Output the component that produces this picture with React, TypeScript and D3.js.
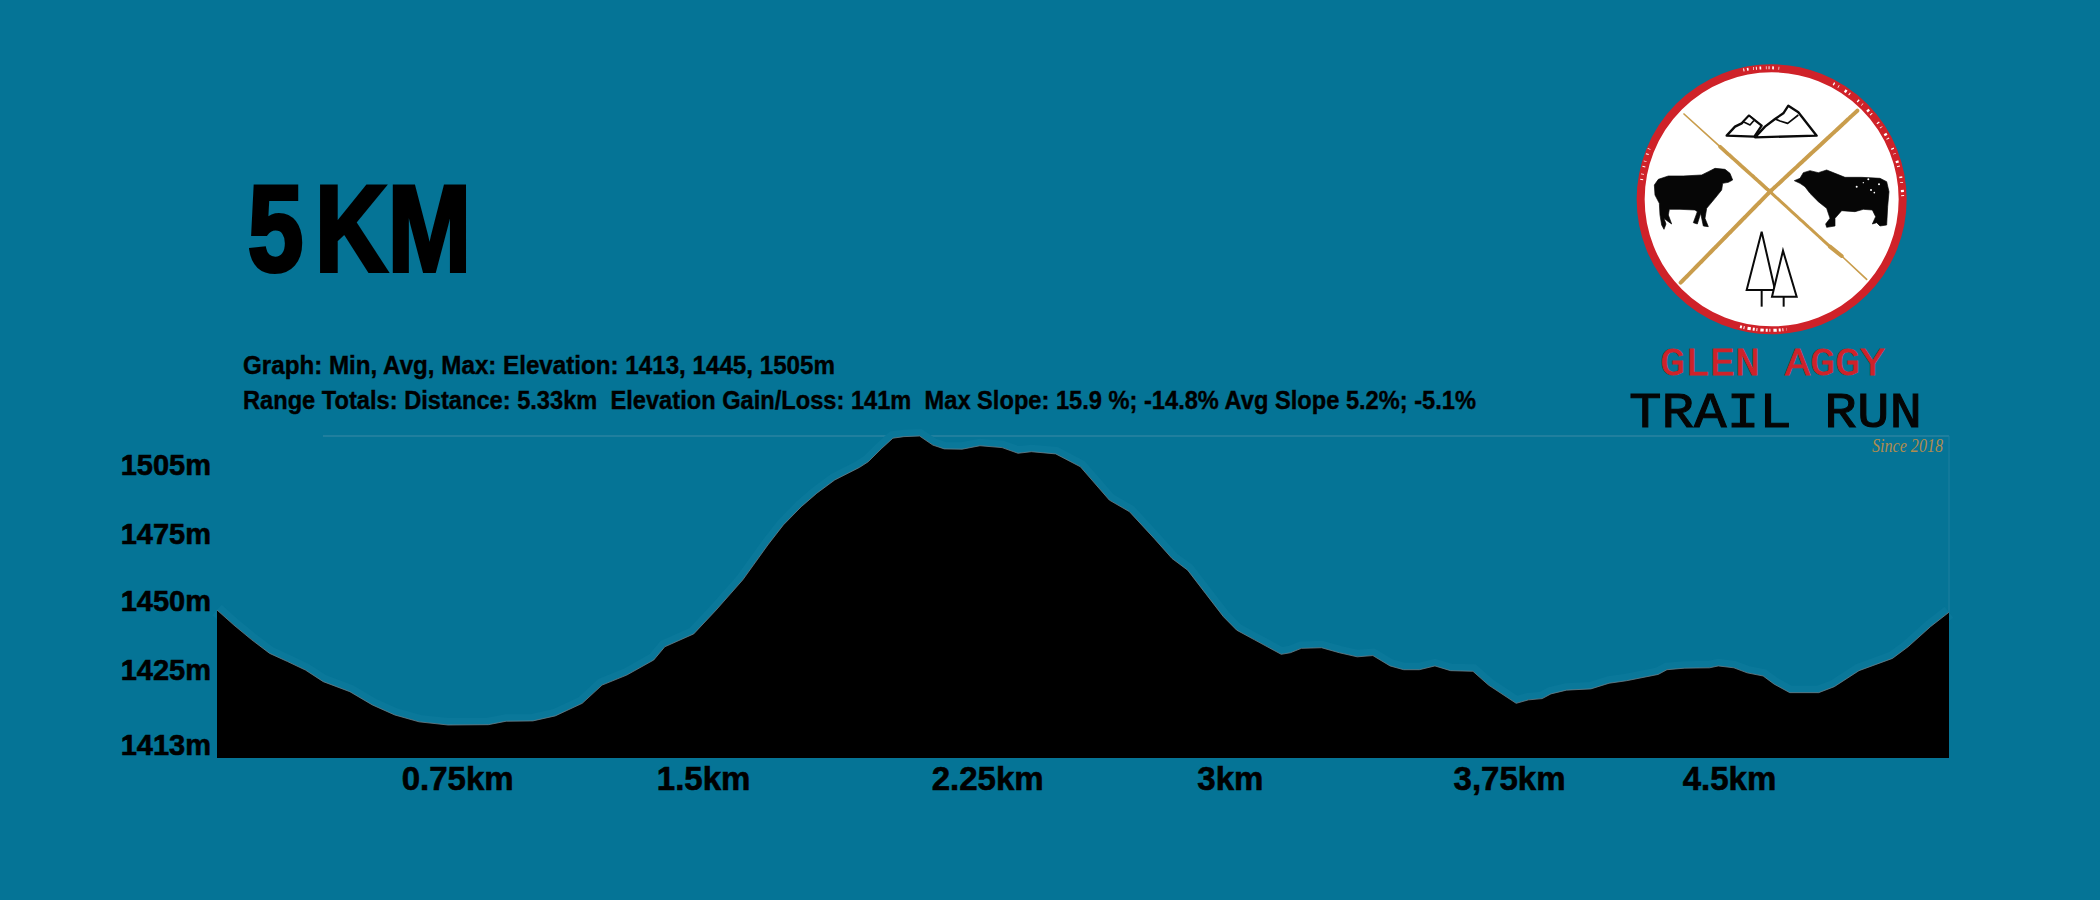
import * as d3 from "d3";
import { useEffect, useRef } from "react";

// profile: km along the course, elevation in m
const distanceKm = [
  0, 0.052, 0.107, 0.162, 0.217, 0.272, 0.327, 0.409, 0.478, 0.547, 0.622, 0.711, 0.835, 0.89, 0.972,
  1.041, 1.124, 1.185, 1.261, 1.344, 1.378, 1.467, 1.536, 1.618, 1.695, 1.743, 1.798, 1.846, 1.901,
  1.977, 2.004, 2.046, 2.08, 2.114, 2.162, 2.203, 2.238, 2.293, 2.348, 2.416, 2.465, 2.506, 2.581,
  2.657, 2.746, 2.808, 2.884, 2.939, 2.987, 3.042, 3.097, 3.138, 3.193, 3.275, 3.303, 3.337, 3.399,
  3.454, 3.509, 3.557, 3.61, 3.652, 3.7, 3.748, 3.796, 3.865, 3.913, 3.998, 4.036, 4.078, 4.105,
  4.153, 4.228, 4.284, 4.338, 4.435, 4.462, 4.517, 4.593, 4.62, 4.668, 4.709, 4.758, 4.792, 4.84,
  4.929, 4.977, 5.053, 5.156, 5.204, 5.273, 5.33,
];
const elevationM = [
  1449.6, 1444.8, 1440.1, 1435.8, 1433.2, 1430.5, 1426.8, 1423.6, 1419.4, 1416.2, 1414, 1413, 1413.1,
  1414.2, 1414.3, 1415.9, 1419.9, 1425.7, 1428.9, 1433.7, 1437.9, 1442, 1449.6, 1459.2, 1470.3,
  1476.7, 1482.5, 1486.8, 1491, 1495, 1496.8, 1501.1, 1504.3, 1504.8, 1505, 1502.1, 1500.9, 1500.8,
  1501.9, 1501.3, 1499.5, 1500, 1499.3, 1495.2, 1484.6, 1480.9, 1472.4, 1466, 1462.3, 1454.9, 1447.5,
  1443.2, 1440.1, 1435.5, 1436, 1437.4, 1437.6, 1436, 1434.7, 1435.1, 1431.8, 1430.6, 1430.6, 1431.8,
  1430.3, 1430.1, 1425.7, 1419.9, 1421, 1421.4, 1422.9, 1424.1, 1424.5, 1426.3, 1427.1, 1429.1,
  1430.6, 1431.1, 1431.2, 1431.8, 1431.2, 1429.6, 1428.6, 1426, 1423.3, 1423.3, 1425.2, 1430.3,
  1434.2, 1437.9, 1444.3, 1448.9,
];

// the labels in the picture do not sit at their true values, these are where they sit
const xTickAt = [0.739, 1.496, 2.37, 3.117, 3.976, 4.653];
const xTickLabels = ["0.75km", "1.5km", "2.25km", "3km", "3,75km", "4.5km"];
const yTickAt = [1495.8, 1473.8, 1452.5, 1430.5, 1406.6];
const yTickLabels = ["1505m", "1475m", "1450m", "1425m", "1413m"];

const titleText = "5KM";
const statsLine1 = "Graph: Min, Avg, Max: Elevation: 1413, 1445, 1505m";
const statsLine2 =
  "Range Totals: Distance: 5.33km  Elevation Gain/Loss: 141m  Max Slope: 15.9 %; -14.8% Avg Slope 5.2%; -5.1%";

const BG = "#057496";
const RED = "#cf2229";
const GOLD = "#c99d4c";
const HEAVY = "'Liberation Sans', sans-serif";
const TYPEWRITER = "'Liberation Mono', monospace";

export default function App() {
  const refChart = useRef<SVGGElement>(null);

  useEffect(() => {
    const g = d3.select(refChart.current);
    g.selectAll("*").remove();

    const X = d3.scaleLinear().domain([0, 5.33]).range([217, 1949]);
    const Y = d3.scaleLinear().domain([1413, 1505]).range([725, 436]);
    const bottom = 758;

    const profile = distanceKm.map((d, i) => ({ km: d, m: elevationM[i] }));

    const area = d3
      .area<{ km: number; m: number }>()
      .x((d) => X(d.km))
      .y0(bottom)
      .y1((d) => Y(d.m));
    const line = d3
      .line<{ km: number; m: number }>()
      .x((d) => X(d.km))
      .y((d) => Y(d.m));

    // faint frame left over top and right of the plot
    g.append("path")
      .attr("d", `M${X(0.326)},${Y(1505)}H${X(5.33)}`)
      .attr("fill", "none")
      .attr("stroke", "#3d8aa6")
      .attr("stroke-width", 1);
    g.append("path")
      .attr("d", `M${X(5.33)},${Y(1505)}V${Y(1449)}`)
      .attr("fill", "none")
      .attr("stroke", "#1f7f9f")
      .attr("stroke-width", 1);

    // soft halo above the ridge
    g.append("path")
      .attr("d", line(profile))
      .attr("fill", "none")
      .attr("stroke", "#0a789a")
      .attr("stroke-width", 14);

    g.append("path").attr("d", area(profile)).attr("fill", "#000");

    g.append("path")
      .attr("d", line(profile))
      .attr("fill", "none")
      .attr("stroke", "#6d7f88")
      .attr("stroke-width", 0.8);

    const xAxis = g
      .append("g")
      .attr("transform", `translate(0,${bottom})`)
      .call(
        d3
          .axisBottom(X)
          .tickValues(xTickAt)
          .tickFormat((_, i) => xTickLabels[i])
          .tickSize(0)
          .tickPadding(9)
      );
    xAxis.select(".domain").remove();
    xAxis
      .selectAll("text")
      .attr("fill", "#000")
      .attr("stroke", "#000")
      .attr("stroke-width", 0.6)
      .style("font-family", HEAVY)
      .style("font-weight", "700")
      .style("font-size", "33px");

    const yAxis = g
      .append("g")
      .attr("transform", "translate(217,0)")
      .call(
        d3
          .axisLeft(Y)
          .tickValues(yTickAt)
          .tickFormat((_, i) => yTickLabels[i])
          .tickSize(0)
          .tickPadding(6)
      );
    yAxis.select(".domain").remove();
    yAxis
      .selectAll("text")
      .attr("fill", "#000")
      .attr("stroke", "#000")
      .attr("stroke-width", 0.6)
      .style("font-family", HEAVY)
      .style("font-weight", "700")
      .style("font-size", "29px");
  }, []);

  return (
    <svg width={2100} height={900} style={{ position: "absolute", left: 0, top: 0, display: "block", background: BG }}>
      <text
        transform="scale(0.82,1)"
        x="302 384 473"
        y={271}
        fontFamily={HEAVY}
        fontWeight={700}
        fontSize={122}
        fill="#000"
        stroke="#000"
        strokeWidth={4}
      >
        {titleText}
      </text>
      <text
        x={243}
        y={374}
        textLength={592}
        lengthAdjust="spacingAndGlyphs"
        fontFamily={HEAVY}
        fontWeight={700}
        fontSize={26}
        fill="#000"
        stroke="#000"
        strokeWidth={0.4}
        style={{ whiteSpace: "pre" }}
      >
        {statsLine1}
      </text>
      <text
        x={243}
        y={409}
        textLength={1233}
        lengthAdjust="spacingAndGlyphs"
        fontFamily={HEAVY}
        fontWeight={700}
        fontSize={26}
        fill="#000"
        stroke="#000"
        strokeWidth={0.4}
        style={{ whiteSpace: "pre" }}
      >
        {statsLine2}
      </text>

      <g ref={refChart}></g>

      {/* logo, drawn in 3x crop pixels */}
      <g transform="translate(1600,50) scale(0.33333)">
        <circle cx={515} cy={448} r={393} fill="#fff" stroke={RED} strokeWidth={24} />
        {/* worn patches of the ring */}
        <g fill="none" stroke="#fff" strokeWidth={9}>
          <path d="M700,101A393,393 0 0 1 908,448" strokeDasharray="4 13 2 21 7 9 3 30" />
          <path d="M420,830A393,393 0 0 0 560,838" strokeDasharray="6 5 3 9 10 6" />
          <path d="M430,60A393,393 0 0 1 540,55" strokeDasharray="3 8 5 14 2 6" />
          <path d="M125,390A393,393 0 0 1 150,290" strokeDasharray="3 14 2 20" />
        </g>
        <g stroke={GOLD} fill="none" strokeLinecap="round">
          <path d="M252,192L360,290" strokeWidth={5} />
          <path d="M360,290L510,425" strokeWidth={11} strokeDasharray="22 2 9 3 14 2" />
          <path d="M510,425L690,590" strokeWidth={9} strokeDasharray="26 3 12 2" />
          <path d="M690,590L725,618" strokeWidth={12} />
          <path d="M725,618L800,688" strokeWidth={5} />
          <path d="M772,182L510,425L242,698" strokeWidth={12} strokeDasharray="24 2 8 3 16 2 5 2" />
        </g>
        {/* mountains */}
        <g fill="#fff" stroke="#0a0a0a" strokeWidth={7} strokeLinejoin="round">
          <path d="M380,257L405,230L425,220L447,197L485,227L463,260Z" />
          <path d="M465,262L495,230L525,207L550,190L565,167L595,187L650,257Z" />
          <path d="M430,215L447,197L463,210L450,225Z" strokeWidth={5} />
          <path d="M525,207L540,213L563,220L595,195" fill="none" strokeWidth={5} />
        </g>
        {/* sheep */}
        <path
          fill="#060606"
          stroke="#060606"
          strokeWidth={2}
          strokeLinejoin="round"
          d="M398,390L390,370L375,358L345,355L325,365L305,375L250,378L205,378L175,388L163,405L165,435L178,460L180,495L185,525L192,538L198,522L192,505L205,515L215,522L205,495L208,478L240,478L285,480L292,485L280,518L292,522L302,490L310,528L325,530L315,505L320,475L345,445L365,420L368,400L385,397Z"
        />
        {/* bull */}
        <path
          fill="#060606"
          stroke="#060606"
          strokeWidth={2}
          strokeLinejoin="round"
          d="M583,392L600,385L610,368L630,362L655,368L680,360L705,370L735,382L785,382L840,385L860,395L867,425L863,470L860,525L840,528L830,518L817,522L827,500L817,480L790,478L765,485L725,482L705,505L705,528L680,532L677,522L690,505L680,475L655,455L630,430L615,410L600,400Z"
        />
        <g fill="#fff">
          <circle cx={805} cy={388} r={3} />
          <circle cx={837} cy={403} r={3} />
          <circle cx={813} cy={420} r={3} />
          <circle cx={770} cy={410} r={3} />
          <circle cx={823} cy={428} r={2.5} />
          <circle cx={790} cy={398} r={2} />
        </g>
        {/* trees */}
        <g fill="#fff" stroke="#0a0a0a" strokeWidth={6} strokeLinejoin="miter">
          <path d="M485,545L440,720L525,720Z" />
          <path d="M485,720V770" />
          <path d="M549,602L516,740L590,740Z" />
          <path d="M551,740V770" />
        </g>
      </g>

      <text
        x={1660}
        y={375}
        textLength={225}
        lengthAdjust="spacingAndGlyphs"
        fontFamily={TYPEWRITER}
        fontSize={38}
        fill={RED}
        stroke={RED}
        strokeWidth={0.8}
        style={{ whiteSpace: "pre" }}
      >
        GLEN AGGY
      </text>
      <text
        x={1629}
        y={427}
        textLength={293}
        lengthAdjust="spacingAndGlyphs"
        fontFamily={TYPEWRITER}
        fontSize={50}
        fill="#050505"
        stroke="#050505"
        strokeWidth={1}
        style={{ whiteSpace: "pre" }}
      >
        TRAIL RUN
      </text>
      <text
        x={1872}
        y={452}
        textLength={71}
        lengthAdjust="spacingAndGlyphs"
        fontFamily="'Liberation Serif', serif"
        fontStyle="italic"
        fontSize={18}
        fill="#b08c4e"
      >
        Since 2018
      </text>
    </svg>
  );
}
